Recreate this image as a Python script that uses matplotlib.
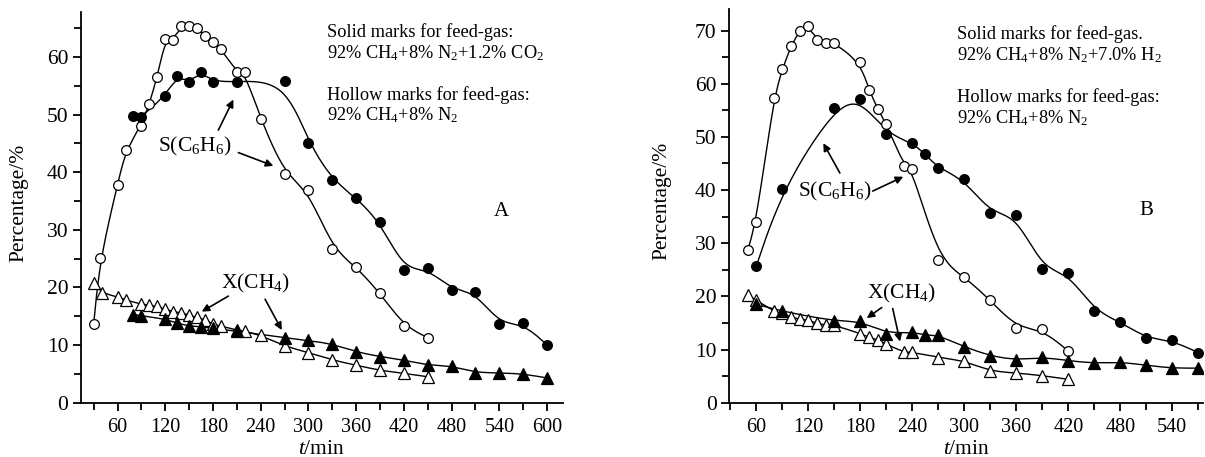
import numpy as np
import matplotlib
matplotlib.use("Agg")
import matplotlib.pyplot as plt
from matplotlib.ticker import MultipleLocator

plt.rcParams['font.family'] = ['Liberation Serif', 'DejaVu Serif']
plt.rcParams['mathtext.fontset'] = 'custom'
plt.rcParams['mathtext.rm'] = 'Liberation Serif'
plt.rcParams['mathtext.it'] = 'Liberation Serif:italic'

# ---------------- Panel A data ----------------
a_sh_t = [30, 38, 60, 70, 90, 100, 110, 120, 130, 140, 150, 160, 170, 180, 190,
          210, 220, 240, 270, 300, 330, 360, 390, 420, 450]
a_sh_v = [13.7, 25.1, 37.8, 43.8, 48.1, 51.9, 56.6, 63.1, 63.0, 65.3, 65.3, 65.0,
          63.7, 62.6, 61.4, 57.3, 57.3, 49.2, 39.6, 36.9, 26.7, 23.6, 19.0, 13.3, 11.3]
a_sf_t = [80, 90, 120, 135, 150, 165, 180, 210, 270, 300, 330, 360, 390, 420, 450,
          480, 510, 540, 570, 600]
a_sf_v = [49.7, 49.5, 53.3, 56.7, 55.6, 57.4, 55.7, 55.7, 55.9, 45.1, 38.7, 35.5,
          31.4, 23.0, 23.3, 19.6, 19.2, 13.6, 13.8, 10.0]
a_xh_t = [30, 40, 60, 70, 90, 100, 110, 120, 130, 140, 150, 160, 170, 180, 190,
          210, 220, 240, 270, 300, 330, 360, 390, 420, 450]
a_xh_v = [20.8, 19.0, 18.4, 17.8, 17.1, 16.9, 16.7, 16.2, 15.8, 15.6, 15.2, 14.8,
          14.4, 13.6, 13.3, 12.6, 12.4, 11.7, 9.8, 8.7, 7.4, 6.5, 5.6, 5.1, 4.5]
a_xf_t = [80, 90, 120, 135, 150, 165, 180, 210, 270, 300, 330, 360, 390, 420, 450,
          480, 510, 540, 570, 600]
a_xf_v = [15.3, 15.1, 14.5, 13.8, 13.3, 13.2, 12.9, 12.4, 11.3, 10.8, 10.2, 8.8,
          8.0, 7.4, 6.5, 6.4, 5.2, 5.2, 5.0, 4.3]

# ---------------- Panel B data ----------------
b_sh_t = [50, 60, 80, 90, 100, 110, 120, 130, 140, 150, 180, 190, 200, 210, 230,
          240, 270, 300, 330, 360, 390, 420]
b_sh_v = [28.7, 34.0, 57.3, 62.7, 67.1, 70.0, 70.8, 68.3, 67.7, 67.7, 64.0, 58.8,
          55.3, 52.4, 44.6, 44.0, 26.9, 23.7, 19.3, 14.1, 13.8, 9.7]
b_sf_t = [60, 90, 150, 180, 210, 240, 255, 270, 300, 330, 360, 390, 420, 450, 480,
          510, 540, 570]
b_sf_v = [25.7, 40.2, 55.5, 57.2, 50.6, 48.9, 46.7, 44.1, 42.0, 35.6, 35.3, 25.1,
          24.4, 17.3, 15.2, 12.1, 11.7, 9.4]
b_xh_t = [50, 60, 80, 90, 100, 110, 120, 130, 140, 150, 180, 190, 200, 210, 230,
          240, 270, 300, 330, 360, 390, 420]
b_xh_v = [20.2, 19.3, 17.2, 16.8, 16.1, 15.7, 15.5, 14.9, 14.6, 14.6, 13.0, 12.3,
          11.8, 11.0, 9.5, 9.5, 8.5, 7.9, 5.9, 5.6, 5.1, 4.4]
b_xf_t = [60, 90, 150, 180, 210, 240, 255, 270, 300, 330, 360, 390, 420, 450, 480,
          510, 540, 570]
b_xf_v = [18.5, 17.2, 15.3, 15.4, 13.0, 13.3, 12.7, 12.7, 10.5, 8.8, 8.0, 8.6,
          7.9, 7.4, 7.7, 7.0, 6.5, 6.5]


def bspline(t, v, n=25):
    """Clamped uniform cubic B-spline using the data points as control points."""
    P = np.column_stack([np.asarray(t, float), np.asarray(v, float)])
    P = np.vstack([P[0], P[0], P, P[-1], P[-1]])
    u = np.linspace(0, 1, n)
    b0 = (1 - u) ** 3 / 6
    b1 = (3 * u ** 3 - 6 * u ** 2 + 4) / 6
    b2 = (-3 * u ** 3 + 3 * u ** 2 + 3 * u + 1) / 6
    b3 = u ** 3 / 6
    pts = []
    for i in range(len(P) - 3):
        p0, p1, p2, p3 = P[i:i + 4]
        seg = (np.outer(b0, p0) + np.outer(b1, p1) + np.outer(b2, p2)
               + np.outer(b3, p3))
        pts.append(seg)
    pts = np.vstack(pts)
    return pts[:, 0], pts[:, 1]


fig = plt.figure(figsize=(12.05, 4.57), dpi=100)
axA = fig.add_axes([0.0672, 0.1188, 0.400, 0.855])
axB = fig.add_axes([0.605, 0.1188, 0.3934, 0.861])

FSX = 14.5
FSY = 15.5
FSL = 15.5
FST = 13.2
ms_c = 7.0
ms_t = 8.5


def style(ax, xlim, ylim, xmaj, ylab_x):
    ax.set_xlim(*xlim)
    ax.set_ylim(*ylim)
    for s in ['top', 'right']:
        ax.spines[s].set_visible(False)
    for s in ['left', 'bottom']:
        ax.spines[s].set_linewidth(1.3)
    ax.xaxis.set_minor_locator(MultipleLocator(30))
    ax.yaxis.set_major_locator(MultipleLocator(10))
    ax.yaxis.set_minor_locator(MultipleLocator(5))
    ax.set_xticks([x for x in range(60, xmaj + 1, 60)])
    ax.tick_params(which='both', direction='out', width=1.3)
    ax.tick_params(axis='x', labelsize=FSX, pad=5)
    ax.tick_params(axis='y', labelsize=FSY, pad=3)
    ax.tick_params(which='major', length=6)
    ax.tick_params(which='minor', length=5)
    ax.set_xlabel(r'$\mathit{t}$/min', fontsize=FSL, labelpad=2)
    ax.set_ylabel('Percentage/%', fontsize=FSL)
    ax.yaxis.set_label_coords(ylab_x, 0.512)


def series(ax, t, v, marker, filled, ms):
    xs, ys = bspline(t, v)
    ax.plot(xs, ys, color='black', lw=1.0, zorder=2)
    ax.plot(t, v, ls='none', marker=marker, ms=ms, mec='black', mew=0.9,
            mfc='black' if filled else 'white', zorder=3)


arr = dict(arrowstyle='-|>', color='black', lw=1.2, mutation_scale=11,
           shrinkA=0, shrinkB=0)

# ---- Panel A ----
style(axA, (14, 620), (0, 67.8), 600, -0.110)
series(axA, a_sh_t, a_sh_v, 'o', False, ms_c)
series(axA, a_sf_t, a_sf_v, 'o', True, ms_c)
series(axA, a_xh_t, a_xh_v, '^', False, ms_t)
series(axA, a_xf_t, a_xf_v, '^', True, ms_t)

axA.text(157, 44.4, r'S(C$_6$H$_6$)', fontsize=FSL, ha='center', va='center')
axA.annotate('', xy=(205.6, 52.6), xytext=(186.7, 47.3), arrowprops=arr)
axA.annotate('', xy=(255.9, 41.1), xytext=(211.9, 43.4), arrowprops=arr)
axA.text(233, 20.7, r'X(CH$_4$)', fontsize=FSL, ha='center', va='center')
axA.annotate('', xy=(165.8, 15.8), xytext=(199.3, 18.5), arrowprops=arr)
axA.annotate('', xy=(266.5, 12.6), xytext=(245.5, 17.95), arrowprops=arr)
axA.text(543, 33.2, 'A', fontsize=15, ha='center', va='center')
axA.text(323, 64.4, 'Solid marks for feed-gas:', fontsize=FST, va='center')
axA.text(323, 60.7, r'92% CH$_4$+8% N$_2$+1.2% CO$_2$', fontsize=FST, va='center')
axA.text(323, 53.4, 'Hollow marks for feed-gas:', fontsize=FST, va='center')
axA.text(323, 49.9, r'92% CH$_4$+8% N$_2$', fontsize=FST, va='center')

# ---- Panel B ----
style(axB, (28.5, 575.5), (0, 74), 540, -0.122)
series(axB, b_sh_t, b_sh_v, 'o', False, ms_c)
series(axB, b_sf_t, b_sf_v, 'o', True, ms_c)
series(axB, b_xh_t, b_xh_v, '^', False, ms_t)
series(axB, b_xf_t, b_xf_v, '^', True, ms_t)

axB.text(151, 39.7, r'S(C$_6$H$_6$)', fontsize=FSL, ha='center', va='center')
axB.annotate('', xy=(137.3, 48.8), xytext=(156.4, 43.2), arrowprops=arr)
axB.annotate('', xy=(229.6, 42.5), xytext=(194.3, 39.8), arrowprops=arr)
axB.text(227, 20.6, r'X(CH$_4$)', fontsize=FSL, ha='center', va='center')
axB.annotate('', xy=(187.4, 15.9), xytext=(204.7, 17.9), arrowprops=arr)
axB.annotate('', xy=(225.8, 11.5), xytext=(217.4, 17.7), arrowprops=arr)
axB.text(510, 36.1, 'B', fontsize=15, ha='center', va='center')
axB.text(292, 69.4, 'Solid marks for feed-gas.', fontsize=FST, va='center')
axB.text(292, 65.4, r'92% CH$_4$+8% N$_2$+7.0% H$_2$', fontsize=FST, va='center')
axB.text(292, 57.4, 'Hollow marks for feed-gas:', fontsize=FST, va='center')
axB.text(292, 53.6, r'92% CH$_4$+8% N$_2$', fontsize=FST, va='center')

fig.savefig('out.png', dpi=100)
